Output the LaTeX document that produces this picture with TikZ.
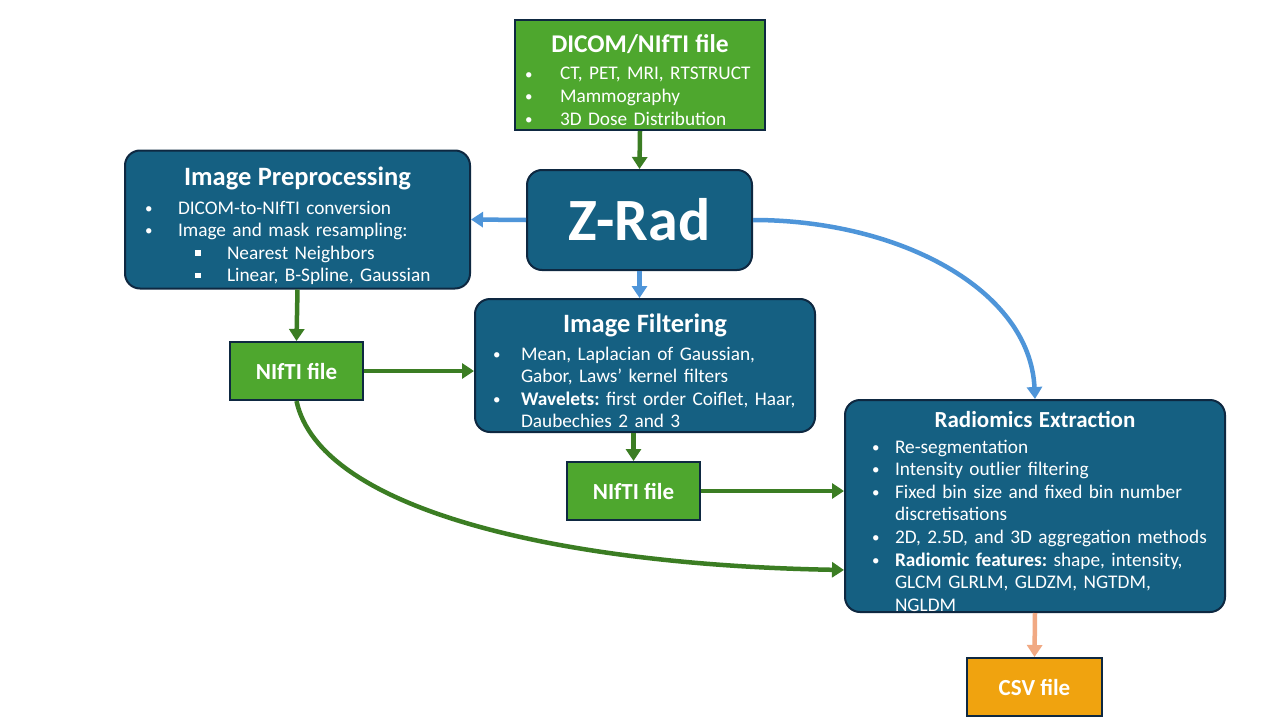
\documentclass[tikz,border=0pt]{standalone}
\usepackage{fontspec}
\setmainfont{Carlito}
\usetikzlibrary{arrows.meta}

\definecolor{zteal}{HTML}{156082}
\definecolor{zline}{HTML}{0E2841}
\definecolor{zgreen}{HTML}{4EA72E}
\definecolor{zgarrow}{HTML}{3B7D23}
\definecolor{zblue}{HTML}{4E95D9}
\definecolor{zorange}{HTML}{F0A30F}
\definecolor{zsalmon}{HTML}{F1A983}

\frenchspacing
% bullet lines inside the boxes
\newcommand\dotb{\raisebox{1pt}{\fontsize{15}{15}\selectfont\textbullet}}
\newcommand\itm[2]{\makebox[#1][l]{\dotb}\mbox{#2}}
\newcommand\subitm[1]{\hspace*{50pt}\makebox[32pt][l]{\raisebox{3.5pt}{\rule{5.5pt}{5.5pt}}}\mbox{#1}}
\newcommand\ttl{\fontsize{26.5}{30}\selectfont\bfseries}

\begin{document}
\begin{tikzpicture}[
    x=1pt, y=-1pt,
    >={Triangle[width=15pt,length=12pt]},
    every node/.style={font=\fontsize{19.3}{22.6}\selectfont},
    tealbox/.style={
        draw=zline, line width=2pt,
        fill=zteal, rounded corners=15pt
    },
    greenbox/.style={
        draw=zline, line width=2pt, fill=zgreen, text=white,
        font=\fontsize{23}{26}\selectfont\bfseries
    },
    txt/.style={text=white, inner sep=0pt, anchor=base, align=left},
    garr/.style={->, draw=zgarrow, line width=4.5pt},
    barr/.style={->, draw=zblue, line width=4.5pt}
]
\path[use as bounding box, fill=white] (0,0) rectangle (1280,720);

% ----------------------------------------------------------
% Kaesten
% ----------------------------------------------------------
\node[greenbox, minimum width=250pt, minimum height=110pt] (dicom) at (640,75) {};
\node[tealbox, minimum width=225pt, minimum height=100pt, text=white,
      font=\fontsize{60}{64}\selectfont\bfseries] (zrad) at (639.5,220) {Z-Rad};
\node[tealbox, minimum width=345pt, minimum height=138pt] (prep) at (297.5,219.5) {};
\node[tealbox, minimum width=340pt, minimum height=133pt] (filt) at (645,365.5) {};
\node[tealbox, minimum width=380pt, minimum height=212pt] (rad) at (1035,506) {};

\node[greenbox, minimum width=133pt, minimum height=58pt] (nif1) at (296.5,371) {NIfTI file};
\node[greenbox, minimum width=133pt, minimum height=58pt] (nif2) at (633.5,491) {NIfTI file};
\node[greenbox, fill=zorange, minimum width=135pt, minimum height=58pt] (csv) at (1034.5,687) {CSV file};

% ----------------------------------------------------------
% Texte in den Kaesten
% ----------------------------------------------------------
\node[txt, text width=230pt] (dicomT) at (640,52) {%
    \makebox[\linewidth]{\fontsize{25.5}{30}\selectfont\bfseries DICOM/NIfTI file}\\[5.4pt]
    \itm{35pt}{CT, PET, MRI, RTSTRUCT}\\
    \itm{35pt}{Mammography}\\
    \itm{35pt}{3D Dose Distribution}};

\node[txt, text width=305pt] (prepT) at (297.5,185) {%
    \makebox[\linewidth]{\ttl Image Preprocessing}\\[6.4pt]
    \itm{33pt}{DICOM-to-NIfTI conversion}\\
    \itm{33pt}{Image and mask resampling:}\\
    \subitm{Nearest Neighbors}\\
    \subitm{Linear, B-Spline, Gaussian}};

\node[txt, text width=304pt] (filtT) at (645,332) {%
    \makebox[\linewidth]{\ttl Image Filtering}\\[5.4pt]
    \itm{28pt}{Mean, Laplacian of Gaussian,}\\
    \hspace*{28pt}\mbox{Gabor, Laws’ kernel filters}\\
    \itm{28pt}{\textbf{Wavelets:} first order Coiflet, Haar,}\\
    \hspace*{28pt}\mbox{Daubechies 2 and 3}};

\node[txt, text width=326pt] (radT) at (1035,427) {%
    \makebox[\linewidth]{\fontsize{23}{27}\selectfont\bfseries Radiomics Extraction}\\[3.4pt]
    \itm{23pt}{Re-segmentation}\\
    \itm{23pt}{Intensity outlier filtering}\\
    \itm{23pt}{Fixed bin size and fixed bin number}\\
    \hspace*{23pt}\mbox{discretisations}\\
    \itm{23pt}{2D, 2.5D, and 3D aggregation methods}\\
    \itm{23pt}{\textbf{Radiomic features:} shape, intensity,}\\
    \hspace*{23pt}\mbox{GLCM GLRLM, GLDZM, NGTDM,}\\
    \hspace*{23pt}\mbox{NGLDM}};

% ----------------------------------------------------------
% Pfeile
% ----------------------------------------------------------
\draw[garr] (dicom.south) -- (zrad.north);
\draw[barr] (zrad.west) -- (prep.east);
\draw[barr] (zrad.south) -- (zrad.south |- filt.north);
\draw[barr] (zrad.east) .. controls (900,220) and (1030,290) .. (rad.north);
\draw[garr] (prep.south) -- (nif1.north);
\draw[garr] (nif1.east) -- (nif1.east -| filt.west);
\draw[garr] (nif1.south) .. controls (320,510) and (560,565) .. ([yshift=-64pt]rad.west);
\draw[garr] (nif2.north |- filt.south) -- (nif2.north);
\draw[garr] (nif2.east) -- (nif2.east -| rad.west);
\draw[->, draw=zsalmon, line width=4.5pt] (rad.south) -- (csv.north);

\end{tikzpicture}
\end{document}
